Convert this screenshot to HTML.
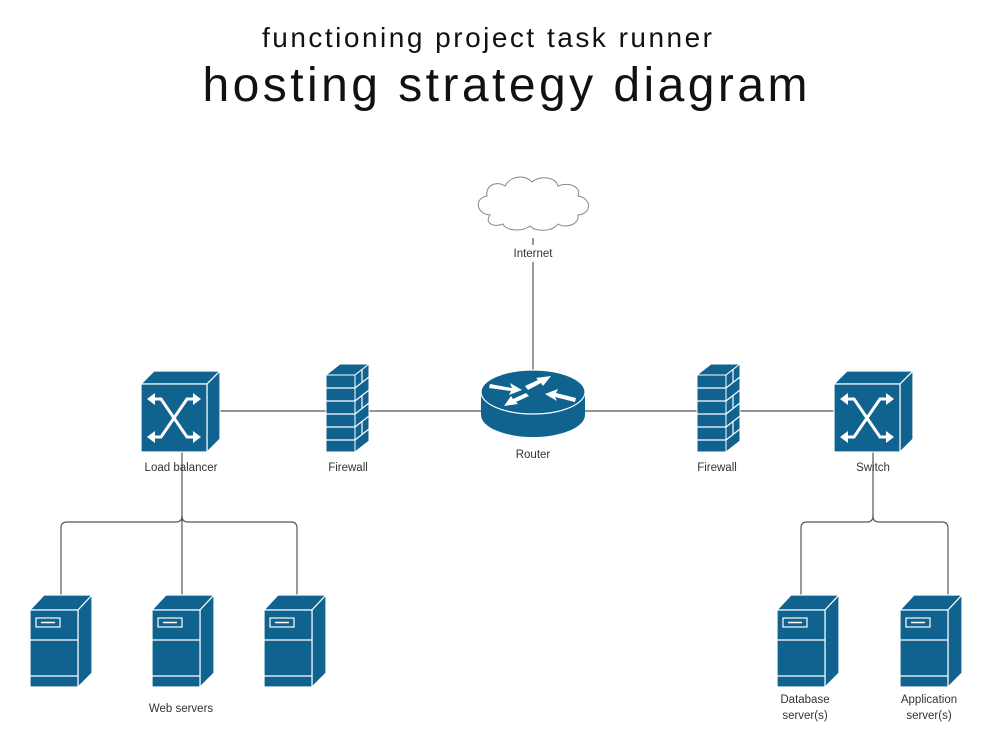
<!DOCTYPE html>
<html><head><meta charset="utf-8"><style>
html,body{margin:0;padding:0;background:#fff}
svg{display:block}
text{font-family:"Liberation Sans",sans-serif}
.l{font-size:11.5px;fill:#333;text-anchor:middle}
</style></head><body>
<svg width="1008" height="741" viewBox="0 0 1008 741" xmlns="http://www.w3.org/2000/svg">
<defs>
<g id="cube">
<polygon points="0,13 13,0 79,0 66,13" fill="#10628f" stroke="#fff" stroke-width="1.2"/>
<polygon points="66,13 79,0 79,68 66,81" fill="#10628f" stroke="#fff" stroke-width="1.2"/>
<rect x="0" y="13" width="66" height="68" fill="#10628f" stroke="#fff" stroke-width="1.2"/>
<g stroke="#fff" stroke-width="3" fill="none">
<path d="M10,28 H20 L46,66 H56"/>
<path d="M10,66 H20 L46,28 H56"/>
</g>
<g fill="#fff">
<polygon points="6,28 14,22 14,34"/><polygon points="60,28 52,22 52,34"/>
<polygon points="6,66 14,60 14,72"/><polygon points="60,66 52,60 52,72"/>
</g>
</g>
<g id="server">
<polygon points="0,15 14,0 62,0 48,15" fill="#10628f" stroke="#fff" stroke-width="1.2"/>
<polygon points="48,15 62,0 62,78 48,92" fill="#10628f" stroke="#fff" stroke-width="1.2"/>
<rect x="0" y="15" width="48" height="77" fill="#10628f" stroke="#fff" stroke-width="1.2"/>
<line x1="0" y1="45" x2="48" y2="45" stroke="#fff" stroke-width="1.2"/>
<line x1="0" y1="81" x2="48" y2="81" stroke="#fff" stroke-width="1.2"/>
<rect x="6" y="23" width="24" height="9" fill="none" stroke="#fff" stroke-width="1.2"/>
<line x1="11" y1="27.5" x2="25" y2="27.5" stroke="#fff" stroke-width="1.5"/>
</g>
<g id="fw">
<polygon points="0,11 14,0 43,0 29,11" fill="#10628f" stroke="#fff" stroke-width="1"/>
<polygon points="29,11 43,0 43,77 29,88" fill="#10628f" stroke="#fff" stroke-width="1"/>
<rect x="0" y="11" width="29" height="77" fill="#10628f" stroke="#fff" stroke-width="1"/>
<g stroke="#fff" stroke-width="1.2">
<line x1="0" y1="24" x2="29" y2="24"/><line x1="0" y1="37" x2="29" y2="37"/>
<line x1="0" y1="50" x2="29" y2="50"/><line x1="0" y1="63" x2="29" y2="63"/>
<line x1="0" y1="76" x2="29" y2="76"/>
<line x1="29" y1="24" x2="43" y2="13"/><line x1="29" y1="37" x2="43" y2="26"/>
<line x1="29" y1="50" x2="43" y2="39"/><line x1="29" y1="63" x2="43" y2="52"/>
<line x1="29" y1="76" x2="43" y2="65"/>
<line x1="36" y1="5" x2="36" y2="18"/><line x1="36" y1="31" x2="36" y2="44"/><line x1="36" y1="57" x2="36" y2="70"/>
</g>
</g>
</defs>

<text x="487" y="47" font-size="28" textLength="450" lengthAdjust="spacing" text-anchor="middle" fill="#111">functioning project task runner</text>
<text x="505" y="101" font-size="48" textLength="605" lengthAdjust="spacing" text-anchor="middle" fill="#111">hosting strategy diagram</text>

<g stroke="#555" stroke-width="1.2" fill="none">
<line x1="533" y1="238" x2="533" y2="245"/>
<line x1="533" y1="262" x2="533" y2="372"/>
<line x1="220" y1="411" x2="326" y2="411"/>
<line x1="369" y1="411" x2="482" y2="411"/>
<line x1="584" y1="411" x2="697" y2="411"/>
<line x1="740" y1="411" x2="834" y2="411"/>
<path d="M182,452 V516 Q182,522 176,522 H67 Q61,522 61,528 V595"/>
<path d="M182,516 Q182,522 188,522 H291 Q297,522 297,528 V595"/>
<line x1="182" y1="516" x2="182" y2="595"/>
<path d="M873,452 V516 Q873,522 867,522 H807 Q801,522 801,528 V595"/>
<path d="M873,516 Q873,522 879,522 H942 Q948,522 948,528 V595"/>
</g>

<path d="M490,215 C476,214 474,198 487,196 C485,186 496,180 505,186 C510,176 525,174 532,182 C540,175 556,177 558,186 C570,181 582,188 578,196 C592,198 592,214 578,215 C580,224 566,229 558,224 C552,232 536,232 530,226 C522,232 506,231 503,224 C494,228 484,223 490,215 Z" fill="#fff" stroke="#7c8a96" stroke-width="1"/>

<g>
<path d="M481,392 V415 A52,22 0 0 0 585,415 V392 Z" fill="#10628f"/>
<ellipse cx="533" cy="392" rx="52" ry="22" fill="#10628f" stroke="#fff" stroke-width="1.2"/>
<g fill="#fff">
<polygon points="490,384 512,388 510,383 522,390 509,395 511,391 489,388"/>
<polygon points="525,386 538,380 536,378 551,376 543,386 541,383 528,390"/>
<polygon points="575,402 555,397 557,401 545,394 558,389 556,393 576,398"/>
<polygon points="529,396 516,402 518,404 504,406 511,396 513,399 526,393"/>
</g>
</g>

<use href="#cube" x="141" y="371"/>
<use href="#cube" x="834" y="371"/>
<use href="#fw" x="326" y="364"/>
<use href="#fw" x="697" y="364"/>
<use href="#server" x="30" y="595"/>
<use href="#server" x="152" y="595"/>
<use href="#server" x="264" y="595"/>
<use href="#server" x="777" y="595"/>
<use href="#server" x="900" y="595"/>

<text class="l" x="533" y="257">Internet</text>
<text class="l" x="181" y="471">Load balancer</text>
<text class="l" x="348" y="471">Firewall</text>
<text class="l" x="533" y="458">Router</text>
<text class="l" x="717" y="471">Firewall</text>
<text class="l" x="873" y="471">Switch</text>
<text class="l" x="181" y="712">Web servers</text>
<text class="l" x="805" y="703">Database</text>
<text class="l" x="805" y="719">server(s)</text>
<text class="l" x="929" y="703">Application</text>
<text class="l" x="929" y="719">server(s)</text>
</svg>
</body></html>
